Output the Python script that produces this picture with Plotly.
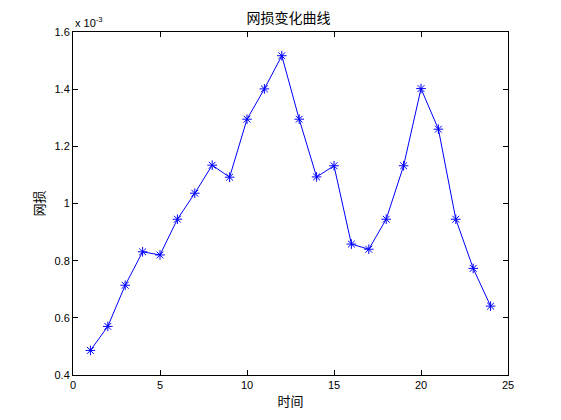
import plotly.graph_objects as go

# data (values in units of 1e-3)
t = list(range(1, 25))
loss_e3 = [0.486, 0.570, 0.714, 0.831, 0.820, 0.945, 1.036, 1.134, 1.092, 1.295,
           1.401, 1.517, 1.295, 1.093, 1.132, 0.858, 0.840, 0.945, 1.132, 1.402,
           1.260, 0.945, 0.773, 0.641]
scale = 1e-3
x_ticks = [0, 5, 10, 15, 20, 25]
y_ticks_e3 = [0.4, 0.6, 0.8, 1.0, 1.2, 1.4, 1.6]
y_tick_labels = ["0.4", "0.6", "0.8", "1", "1.2", "1.4", "1.6"]

loss = [v * scale for v in loss_e3]

font_latin = "Liberation Sans, Arial, sans-serif"
font_cjk = "Noto Sans CJK SC, sans-serif"

fig = go.Figure()
fig.add_trace(go.Scatter(
    x=t, y=loss, mode="lines+markers",
    line=dict(color="#0000FF", width=1),
    marker=dict(symbol="asterisk-open", size=8, color="#0000FF",
                line=dict(color="#0000FF", width=1)),
    showlegend=False,
))

axis_common = dict(
    showline=True, linecolor="black", linewidth=1, mirror="ticks",
    ticks="inside", ticklen=5, tickcolor="black", showgrid=False,
    zeroline=False, tickfont=dict(family=font_latin, size=11, color="black"),
)

fig.update_layout(
    width=561, height=420,
    paper_bgcolor="white", plot_bgcolor="white",
    margin=dict(l=65, r=61, t=24, b=53),
    title=dict(text="网损变化曲线", x=0.5, xanchor="center", y=0.976, yanchor="middle",
               font=dict(family=font_cjk, size=14, color="black")),
    xaxis=dict(range=[0, 25], tickvals=x_ticks,
               title=dict(text="时间", font=dict(family=font_cjk, size=13, color="black"),
                          standoff=6),
               **axis_common),
    yaxis=dict(range=[0.4 * scale, 1.6 * scale],
               tickvals=[v * scale for v in y_ticks_e3], ticktext=y_tick_labels,
               title=dict(text="网损", font=dict(family=font_cjk, size=13, color="black"),
                          standoff=6),
               **axis_common),
    annotations=[dict(text="x 10<sup>-3</sup>", xref="paper", yref="paper",
                      x=0, y=1.0, xanchor="left", yanchor="bottom", yshift=1,
                      showarrow=False,
                      font=dict(family=font_latin, size=11, color="black"))],
)

fig.write_html("out.html")
